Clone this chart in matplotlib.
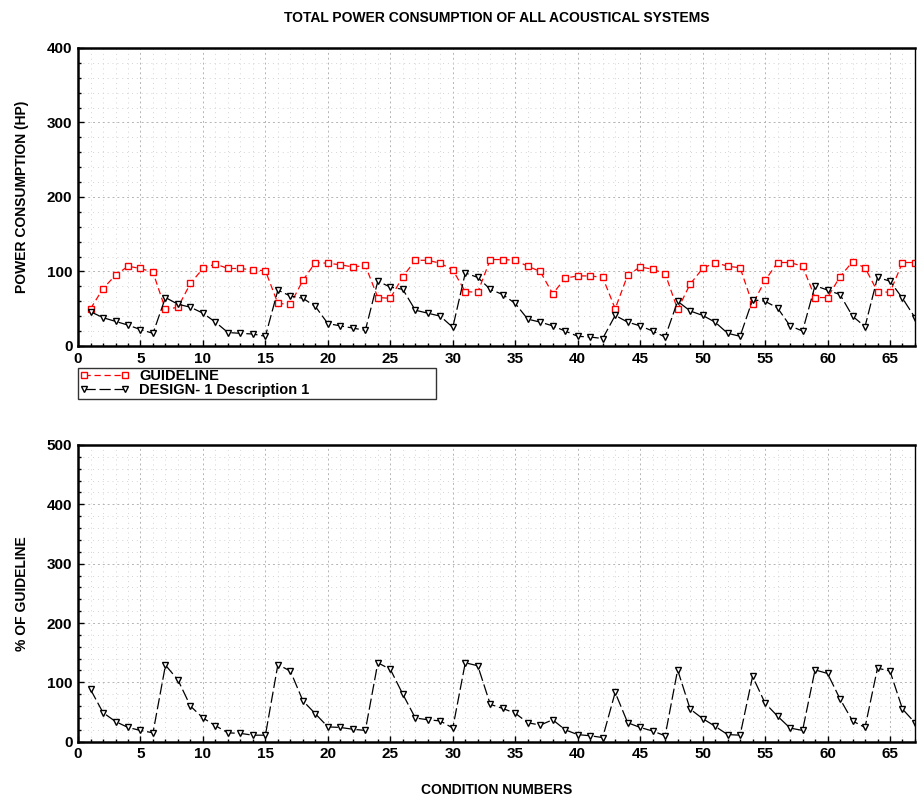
import matplotlib
matplotlib.use("Agg")
import matplotlib.pyplot as plt
from matplotlib.ticker import MultipleLocator

plt.rcParams["font.family"] = ["Liberation Sans", "DejaVu Sans"]
plt.rcParams["font.weight"] = "bold"

conditions = list(range(1, 68))

guideline_hp = [50, 77, 95, 107, 104, 99, 49, 52, 84, 104,
                110, 104, 104, 102, 101, 57, 56, 88, 112, 111,
                109, 106, 108, 65, 64, 93, 115, 115, 111, 102,
                73, 72, 116, 116, 115, 107, 100, 70, 91, 94,
                94, 92, 50, 95, 106, 103, 97, 49, 83, 104,
                112, 107, 105, 56, 88, 112, 112, 107, 65, 65,
                93, 113, 105, 73, 72, 112, 112]

design_hp = [46, 38, 33, 28, 22, 17, 65, 56, 52, 44,
             32, 18, 17, 16, 13, 75, 67, 64, 53, 30,
             27, 24, 21, 87, 79, 76, 48, 44, 40, 25,
             98, 92, 76, 69, 57, 36, 32, 27, 20, 13,
             12, 10, 41, 32, 27, 20, 12, 60, 47, 41,
             32, 17, 13, 62, 60, 51, 27, 20, 81, 75,
             69, 40, 26, 92, 87, 64, 38]

design_pct = [88, 49, 34, 24, 19, 15, 129, 104, 60, 40,
              27, 15, 14, 11, 11, 130, 119, 69, 47, 25,
              24, 21, 19, 133, 122, 80, 40, 37, 35, 23,
              133, 128, 63, 56, 48, 32, 28, 37, 20, 12,
              10, 7, 83, 32, 24, 18, 10, 121, 55, 39,
              26, 12, 11, 110, 65, 43, 23, 19, 121, 115,
              72, 35, 24, 124, 119, 55, 32]

x_ticks = list(range(0, 66, 5))
hp_ticks = [0, 100, 200, 300, 400]
pct_ticks = [0, 100, 200, 300, 400, 500]

RED = "#ff0000"
BLACK = "#000000"

fig = plt.figure(figsize=(9.17, 7.99), dpi=100, facecolor="white")
ax1 = fig.add_axes([0.0851, 0.5670, 0.9127, 0.3730])
ax2 = fig.add_axes([0.0851, 0.0717, 0.9127, 0.3714])


def style_axis(ax, yticks, ymax, yminor):
    ax.set_xlim(0, 67)
    ax.set_ylim(0, ymax)
    ax.set_xticks(x_ticks)
    ax.set_yticks(yticks)
    ax.xaxis.set_minor_locator(MultipleLocator(1))
    ax.yaxis.set_minor_locator(MultipleLocator(yminor))
    ax.grid(which="minor", color="#d4d4d4", linestyle=(0, (1, 4)), linewidth=0.7)
    ax.grid(which="major", color="#b4b4b4", linestyle=(0, (2, 3)), linewidth=0.7)
    ax.set_axisbelow(True)
    ax.tick_params(which="both", direction="in", labelsize=11, width=1, pad=4)
    ax.tick_params(which="major", length=4)
    ax.tick_params(which="minor", length=2)
    for side in ("left", "bottom", "top"):
        ax.spines[side].set_linewidth(1.8)
    ax.spines["right"].set_linewidth(1.0)
    for lbl in ax.get_xticklabels() + ax.get_yticklabels():
        lbl.set_fontweight("bold")


# power consumption
g_line, = ax1.plot(conditions, guideline_hp, color=RED, linewidth=0.9,
                   marker="s", markersize=4.5, markerfacecolor="white",
                   markeredgecolor=RED, markeredgewidth=1.0, label="GUIDELINE")
g_line.set_dashes((5, 3))
d_line, = ax1.plot(conditions, design_hp, color=BLACK, linewidth=0.9,
                   marker="v", markersize=5, markerfacecolor="white",
                   markeredgecolor=BLACK, markeredgewidth=1.0,
                   label="DESIGN- 1 Description 1")
d_line.set_dashes((9, 3))
style_axis(ax1, hp_ticks, 400, 20)
ax1.set_ylabel("POWER CONSUMPTION (HP)", fontsize=10, fontweight="bold", labelpad=13)
ax1.set_title("TOTAL POWER CONSUMPTION OF ALL ACOUSTICAL SYSTEMS",
              fontsize=10, fontweight="bold", pad=19)

# percent of guideline
p_line, = ax2.plot(conditions, design_pct, color=BLACK, linewidth=0.9,
                   marker="v", markersize=5, markerfacecolor="white",
                   markeredgecolor=BLACK, markeredgewidth=1.0)
p_line.set_dashes((9, 3))
style_axis(ax2, pct_ticks, 500, 20)
ax2.set_ylabel("% OF GUIDELINE", fontsize=10, fontweight="bold", labelpad=13)
ax2.set_xlabel("CONDITION NUMBERS", fontsize=10, fontweight="bold", labelpad=16)

leg = fig.legend(handles=[g_line, d_line], loc="upper left",
                 bbox_to_anchor=(0.0851, 0.5094, 0.390, 0.03), mode="expand",
                 fontsize=10.5, frameon=True, fancybox=False, handlelength=3.4,
                 numpoints=2, handletextpad=0.7, borderpad=0.1,
                 labelspacing=0.0, borderaxespad=0)
leg.get_frame().set_edgecolor("black")
leg.get_frame().set_linewidth(1.0)
for t in leg.get_texts():
    t.set_fontweight("bold")

fig.savefig("out.png", dpi=100, facecolor="white")
